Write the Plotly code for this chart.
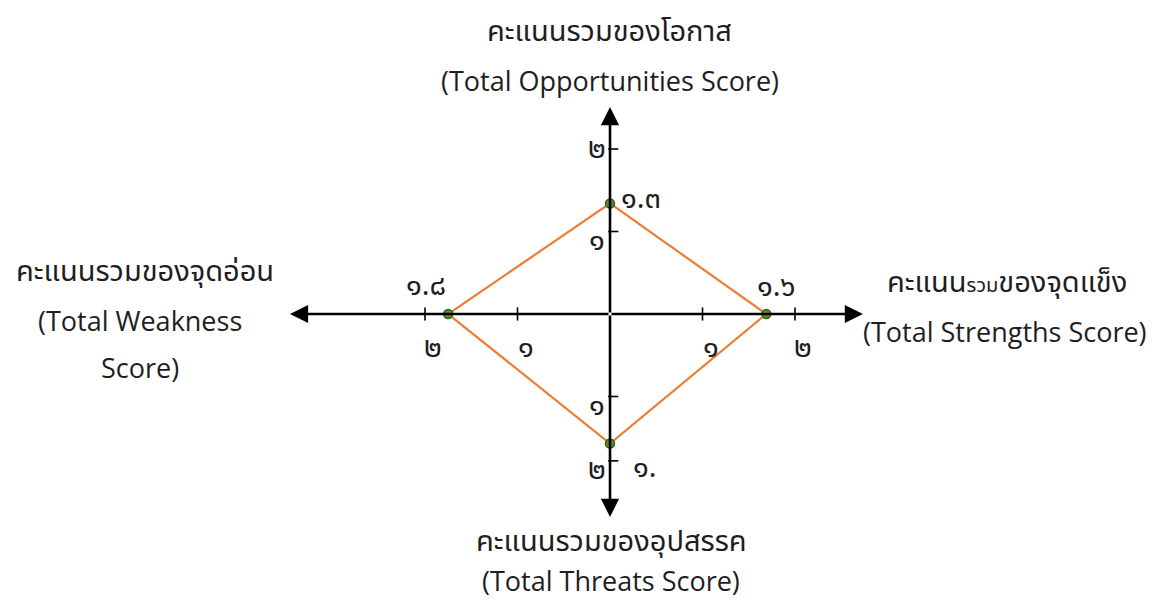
import plotly.graph_objects as go

# --- data ----------------------------------------------------------------
# vertex score on each half-axis: strengths (+x), opportunities (+y),
# weakness (-x), threats (-y)
SCORES = {"S": 1.69, "O": 1.34, "W": 1.75, "T": 1.57}
SCORE_LABELS = {"S": "๑.๖", "O": "๑.๓", "W": "๑.๘", "T": "๑."}

X_TICKS = [-2, -1, 1, 2]
X_TICK_TEXT = ["๒", "๑", "๑", "๒"]
Y_TICKS = [2, 1, -1, -1.78]
Y_TICK_TEXT = ["๒", "๑", "๑", "๒"]

# --- styling ---------------------------------------------------------------
W, H = 1164, 601
ORIGIN_PX = (610, 314)
X_UNIT, Y_UNIT = 92.5, 82.5           # px per score unit
X_RANGE = [-ORIGIN_PX[0] / X_UNIT, (W - ORIGIN_PX[0]) / X_UNIT]
Y_RANGE = [-(H - ORIGIN_PX[1]) / Y_UNIT, ORIGIN_PX[1] / Y_UNIT]
AXIS_TIPS = {"right": 2.735, "left": -3.46, "up": 2.51, "down": -2.46}

THAI = "Noto Sans Thai, Noto Sans, sans-serif"
LATIN = "Open Sans, Noto Sans, sans-serif"
TXT = "#1e1e1e"
ORANGE = "#ED7D31"
GREEN = "#5B8C32"
GREEN_EDGE = "#3A5F1E"

fig = go.Figure()

# axis arrows (drawn from the origin)
for tx, ty in [(AXIS_TIPS["right"], 0), (AXIS_TIPS["left"], 0),
               (0, AXIS_TIPS["up"]), (0, AXIS_TIPS["down"])]:
    fig.add_annotation(
        x=tx, y=ty, ax=0, ay=0, xref="x", yref="y", axref="x", ayref="y",
        text="", showarrow=True, arrowhead=2, arrowsize=1.4,
        arrowwidth=2.6, arrowcolor="black",
    )

# tick marks
tx, ty = [], []
for v in X_TICKS:
    tx += [v, v, None]
    ty += [-0.08, 0.08, None]
for v in Y_TICKS:
    tx += [-0.02, 0.09, None]
    ty += [v, v, None]
fig.add_scatter(x=tx, y=ty, mode="lines", line=dict(color="black", width=1.6),
                hoverinfo="skip", showlegend=False)

# diamond
vx = [SCORES["S"], 0, -SCORES["W"], 0, SCORES["S"]]
vy = [0, SCORES["O"], 0, -SCORES["T"], 0]
fig.add_scatter(x=vx, y=vy, mode="lines", line=dict(color=ORANGE, width=2.2),
                showlegend=False)
fig.add_scatter(x=vx[:4], y=vy[:4], mode="markers",
                marker=dict(size=9, color=GREEN, line=dict(color=GREEN_EDGE, width=1.5)),
                showlegend=False)

DIGITS = dict(size=29, color=TXT, family=THAI)

# tick labels
for v, t in zip(X_TICKS, X_TICK_TEXT):
    fig.add_annotation(x=v, y=0, text=t, showarrow=False, xshift=8, yshift=-34,
                       font=DIGITS)
for v, t in zip(Y_TICKS, Y_TICK_TEXT):
    fig.add_annotation(x=0, y=v, text=t, showarrow=False, xshift=-13,
                       yshift=0 if v == max(Y_TICKS) else -9, font=DIGITS)

# vertex labels
label_pos = {
    "S": (SCORES["S"], 0, 10, 27),
    "O": (0, SCORES["O"], 31, 4),
    "W": (-SCORES["W"], 0, -22, 28),
    "T": (0, -SCORES["T"], 35, -24),
}
for k, (x, y, dx, dy) in label_pos.items():
    fig.add_annotation(x=x, y=y, text=SCORE_LABELS[k], showarrow=False,
                       xshift=dx, yshift=dy, font=DIGITS)

# axis titles (pixel centres)
titles = [
    ("คะแนนรวมของโอกาส", 609, 32, THAI),
    ("(Total Opportunities Score)", 610, 80, LATIN),
    ("คะแนนรวมของจุดอ่อน", 145, 272, THAI),
    ("(Total Weakness", 140, 320, LATIN),
    ("Score)", 140, 367, LATIN),
    ("คะแนน<span style='font-size:20px'>รวม</span>ของจุดแข็ง", 1007, 283, THAI),
    ("(Total Strengths Score)", 1005, 331, LATIN),
    ("คะแนนรวมของอุปสรรค", 611, 542, THAI),
    ("(Total Threats Score)", 611, 580, LATIN),
]
for text, px, py, fam in titles:
    size = 29 if fam == THAI else 27
    fig.add_annotation(x=px / W, y=1 - py / H, xref="paper", yref="paper",
                       text=text, showarrow=False, xanchor="center", yanchor="middle",
                       borderpad=0, font=dict(size=size, color=TXT, family=fam))

fig.update_layout(
    width=W, height=H,
    margin=dict(l=0, r=0, t=0, b=0),
    paper_bgcolor="white", plot_bgcolor="white",
    xaxis=dict(range=X_RANGE, visible=False, fixedrange=True),
    yaxis=dict(range=Y_RANGE, visible=False, fixedrange=True),
    showlegend=False,
)

fig.write_html("out.html", config={"displayModeBar": False},
               post_script="document.body.style.margin='0';")
